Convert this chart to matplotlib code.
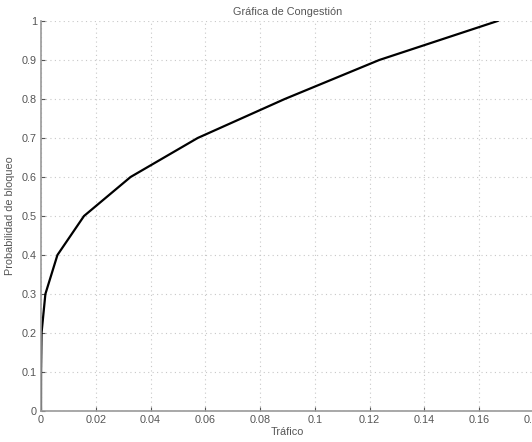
import numpy as np
import matplotlib.pyplot as plt

# datos
trafico = [0.0, 0.00002, 0.0002, 0.0016, 0.006, 0.0157, 0.0327, 0.0572, 0.089, 0.1235, 0.1667]
prob_bloqueo = [0.0, 0.1, 0.2, 0.3, 0.4, 0.5, 0.6, 0.7, 0.8, 0.9, 1.0]
xticks = [0, 0.02, 0.04, 0.06, 0.08, 0.1, 0.12, 0.14, 0.16, 0.18]
yticks = [0, 0.1, 0.2, 0.3, 0.4, 0.5, 0.6, 0.7, 0.8, 0.9, 1]

plt.rcParams['font.family'] = ['Liberation Sans', 'DejaVu Sans']
fig = plt.figure(figsize=(5.32, 4.42), dpi=100)
ax = fig.add_axes([41 / 532, 31 / 442, 493 / 532, 390 / 442])

ax.plot(trafico, prob_bloqueo, color='black', linewidth=1.6)

ax.set_xlim(0, 0.18)
ax.set_ylim(0, 1)
ax.set_xticks(xticks)
ax.set_yticks(yticks)
ax.set_xticklabels([f'{t:g}' for t in xticks])
ax.set_yticklabels([f'{t:g}' for t in yticks])
ax.tick_params(direction='in', length=3, labelsize=7.8, colors='#555555', pad=3)
ax.grid(True, linestyle=(0, (1, 3)), color='#c8c8c8', linewidth=0.8)

for s in ['top', 'right']:
    ax.spines[s].set_visible(False)
for s in ['left', 'bottom']:
    ax.spines[s].set_color('#999999')
    ax.spines[s].set_linewidth(1.2)

ax.set_title('Gráfica de Congestión', fontsize=7.8, color='#555555', pad=4)
ax.set_xlabel('Tráfico', fontsize=7.8, color='#555555', labelpad=1)
ax.set_ylabel('Probabilidad de bloqueo', fontsize=7.8, color='#555555', labelpad=5)

plt.savefig('out.png', dpi=100)
